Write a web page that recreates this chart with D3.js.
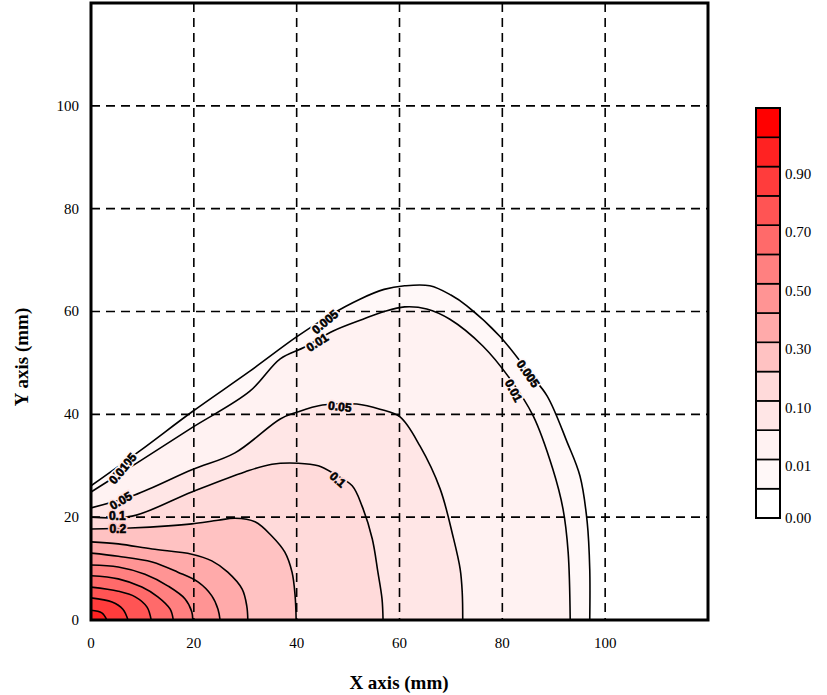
<!DOCTYPE html>
<html>
<head>
<meta charset="utf-8">
<script src="https://cdn.jsdelivr.net/npm/d3@7"></script>
<style>
  html, body { margin: 0; padding: 0; background: #fff; }
  svg { display: block; }
</style>
</head>
<body>
<svg id="chart" width="827" height="695"></svg>
<script>
// ---------------- data ----------------
const xTicks = [0, 20, 40, 60, 80, 100];
const yTicks = [0, 20, 40, 60, 80, 100];
const gridValues = [20, 40, 60, 80, 100];

// contour levels (outermost first)
const levels = [0.005, 0.01, 0.05, 0.1, 0.2, 0.3, 0.4, 0.5, 0.6, 0.7, 0.8, 0.9];

// contour lines, [x mm, y mm], from the Y axis to the X axis
const c0005 = [[0,26.1],[9.5,32.9],[19.8,40.6],[30.9,48.4],[39.9,55],[46.5,59.3],[52.3,62.4],[57,64.3],[61,65],[65.9,65],[70,63.2],[73.1,61.1],[79.5,55.2],[85.4,47.8],[88.7,43.6],[92.6,34.6],[95.1,28],[96.5,19.1],[97,9.9],[97,0]];
const c001 = [[0,24.9],[9.5,30.9],[19.8,37.5],[30.9,44.5],[36.8,50.8],[41.6,53.1],[47.1,56.2],[52.9,58.5],[57,60],[61,60.9],[65.3,60.5],[69.8,58.5],[76.2,53.3],[81.5,46.9],[86,39.7],[89.8,29.4],[91.8,21.6],[92.8,13.2],[93.2,0]];
const c005 = [[0,21.8],[8.5,24.3],[19.6,29.2],[28,32.5],[36.8,39.1],[40,40.4],[45,41.8],[51.7,42],[56.2,41],[60.1,39.5],[64,33.8],[67.9,25.5],[70.4,16.3],[71.8,9.9],[72.2,5.4],[72.3,0]];
const c01 = [[0,20],[8,20.2],[19.6,24.9],[29.9,28.8],[35.2,30.3],[40.3,30.5],[44.2,30],[47.5,28.3],[50.8,26.1],[52.7,22.2],[54.7,15.8],[55.8,9.3],[56.6,4.1],[56.8,0]];
const c02 = [[0,17.7],[7.6,17.9],[15,18.3],[19.6,18.7],[24.7,19.4],[28,19.8],[31.9,19.1],[35.2,16.3],[37.7,13.2],[39.1,9.3],[39.7,4.7],[39.9,0]];
const c03 = [[0,15.2],[5.3,14.8],[11.9,13.8],[19.6,12.8],[23.5,11.5],[26.6,9.3],[29.4,6],[30.3,2.7],[30.5,0]];
const c04 = [[0,13],[5.3,12.4],[11.9,11.3],[16.9,9.3],[20.8,7.4],[23.5,4.7],[24.7,2.1],[25.1,0]];
const c05 = [[0,10.7],[5.3,10.3],[10.5,8.9],[15,6.6],[18.3,4.1],[19.6,1.6],[19.8,0]];
const c06 = [[0,8.6],[5.3,8],[9.9,6.4],[13,4.5],[15.4,2.1],[16,0]];
const c07 = [[0,6.4],[5.3,5.6],[8.6,4.5],[10.9,2.5],[11.7,0]];
const c08 = [[0,4.3],[4.1,3.5],[6.2,2.1],[7.2,0]];
const c09 = [[0,1.9],[2.1,1.4],[3.1,0]];
const contourLines = [c0005, c001, c005, c01, c02, c03, c04, c05, c06, c07, c08, c09];

// contour labels: text, position [x mm, y mm], angle (deg)
const labelTexts = ["0.005", "0.01", "0.05", "0.1", "0.2", "0.005", "0.01", "0.05", "0.1", "0.005", "0.01"];
const labelPos = [[6.5,29.9],[5.4,28.5],[5.8,23.2],[5.1,20.2],[5.2,17.7],[45.5,58],[44,54],[48.4,41.5],[48,27.3],[85,47.9],[82.2,44.6]];
const labelAngles = [-50, -50, -30, 0, 0, -40, -33, 6, 42, 55, 62];

// legend
const legendLevels = [0, 0.005, 0.01, 0.05, 0.1, 0.2, 0.3, 0.4, 0.5, 0.6, 0.7, 0.8, 0.9, 1.0];
const legendLabels = ["0.00", "0.01", "0.10", "0.30", "0.50", "0.70", "0.90"];
const legendLabelIdx = [0, 2, 4, 6, 8, 10, 12];

// ---------------- styles ----------------
const bandColors = ["#ffffff","#fff8f8","#fff2f2","#ffe6e6","#ffdada","#ffc2c2","#ffaaaa","#ff9494","#ff8080","#ff6a6a","#ff5454","#ff3c3c","#ff2222","#ff0000"];
const serif = "'Liberation Serif','Times New Roman',serif";
const sans = "'Liberation Sans',Arial,sans-serif";

// ---------------- layout ----------------
const svg = d3.select("#chart");
const plot = { left: 91, right: 708, top: 3, bottom: 620 };
const x = d3.scaleLinear().domain([0, 120]).range([plot.left, plot.right]);
const y = d3.scaleLinear().domain([0, 120]).range([plot.bottom, plot.top]);

svg.append("defs").append("clipPath").attr("id", "clip")
  .append("rect").attr("x", plot.left).attr("y", plot.top)
  .attr("width", plot.right - plot.left).attr("height", plot.bottom - plot.top);

const g = svg.append("g").attr("clip-path", "url(#clip)");

// background band (below 0.005)
g.append("rect").attr("x", plot.left).attr("y", plot.top)
  .attr("width", plot.right - plot.left).attr("height", plot.bottom - plot.top)
  .attr("fill", bandColors[0]);

const curve = d3.curveCatmullRom.alpha(0.5);
const line = d3.line().x(d => x(d[0])).y(d => y(d[1])).curve(curve);

// filled regions (outermost first)
contourLines.forEach((pts, i) => {
  const body = line(pts);
  g.append("path").attr("d", body + "L" + x(0) + "," + y(0) + "Z")
    .attr("fill", bandColors[i + 1]).attr("stroke", "none");
});

// grid
g.selectAll(".gx").data(gridValues).join("line")
  .attr("x1", d => x(d)).attr("x2", d => x(d))
  .attr("y1", plot.top).attr("y2", plot.bottom)
  .attr("stroke", "#000").attr("stroke-width", 1.6).attr("stroke-dasharray", "9,6");
g.selectAll(".gy").data(gridValues).join("line")
  .attr("y1", d => y(d)).attr("y2", d => y(d))
  .attr("x1", plot.left).attr("x2", plot.right)
  .attr("stroke", "#000").attr("stroke-width", 1.6).attr("stroke-dasharray", "9,6");

// contour lines
contourLines.forEach(pts => {
  g.append("path").attr("d", line(pts))
    .attr("fill", "none").attr("stroke", "#000").attr("stroke-width", 1.6)
    .attr("stroke-linejoin", "round");
});

// contour labels
const labelBand = [1, 2, 3, 4, 5, 1, 2, 3, 4, 1, 2];
labelTexts.forEach((t, i) => {
  const px = x(labelPos[i][0]), py = y(labelPos[i][1]);
  const tg = g.append("g").attr("transform", `translate(${px},${py}) rotate(${labelAngles[i]})`);
  tg.append("text")
    .attr("text-anchor", "middle").attr("dy", "0.35em")
    .attr("font-family", sans).attr("font-weight", "bold").attr("font-size", 12)
    .attr("fill", "none")
    .attr("stroke", bandColors[labelBand[i]]).attr("stroke-width", 4)
    .text(t);
  tg.append("text")
    .attr("text-anchor", "middle").attr("dy", "0.35em")
    .attr("font-family", sans).attr("font-weight", "bold").attr("font-size", 12)
    .attr("fill", "#000").attr("stroke", "#000").attr("stroke-width", 0.6)
    .text(t);
});

// frame
svg.append("rect").attr("x", plot.left).attr("y", plot.top)
  .attr("width", plot.right - plot.left).attr("height", plot.bottom - plot.top)
  .attr("fill", "none").attr("stroke", "#000").attr("stroke-width", 3);

// tick labels
svg.selectAll(".xt").data(xTicks).join("text")
  .attr("x", d => x(d)).attr("y", 648)
  .attr("text-anchor", "middle")
  .attr("font-family", serif).attr("font-size", 15).attr("fill", "#000")
  .text(d => d);
svg.selectAll(".yt").data(yTicks).join("text")
  .attr("x", 79).attr("y", d => y(d)).attr("dy", "0.33em")
  .attr("text-anchor", "end")
  .attr("font-family", serif).attr("font-size", 15).attr("fill", "#000")
  .text(d => d);

// axis titles
svg.append("text").attr("x", 399).attr("y", 689).attr("text-anchor", "middle")
  .attr("font-family", serif).attr("font-weight", "bold").attr("font-size", 19)
  .text("X axis (mm)");
svg.append("text").attr("transform", "translate(28,357) rotate(-90)")
  .attr("text-anchor", "middle")
  .attr("font-family", serif).attr("font-weight", "bold").attr("font-size", 19)
  .text("Y axis (mm)");

// legend
const leg = { x: 756, w: 24, top: 108, bottom: 518 };
const ly = d3.scaleLinear().domain([0, legendLevels.length]).range([leg.bottom, leg.top]);
svg.selectAll(".lb").data(legendLevels).join("rect")
  .attr("x", leg.x).attr("width", leg.w)
  .attr("y", (d, i) => ly(i + 1)).attr("height", (d, i) => ly(i) - ly(i + 1))
  .attr("fill", (d, i) => bandColors[i])
  .attr("stroke", "#000").attr("stroke-width", 1.6);
svg.append("rect").attr("x", leg.x).attr("y", leg.top)
  .attr("width", leg.w).attr("height", leg.bottom - leg.top)
  .attr("fill", "none").attr("stroke", "#000").attr("stroke-width", 2);
svg.selectAll(".ll").data(legendLabels).join("text")
  .attr("x", 785)
  .attr("y", (d, i) => ly(legendLabelIdx[i]) + (i === 0 ? 0 : 7))
  .attr("dy", "0.33em")
  .attr("font-family", serif).attr("font-size", 15).attr("fill", "#000")
  .text(d => d);
</script>
</body>
</html>
